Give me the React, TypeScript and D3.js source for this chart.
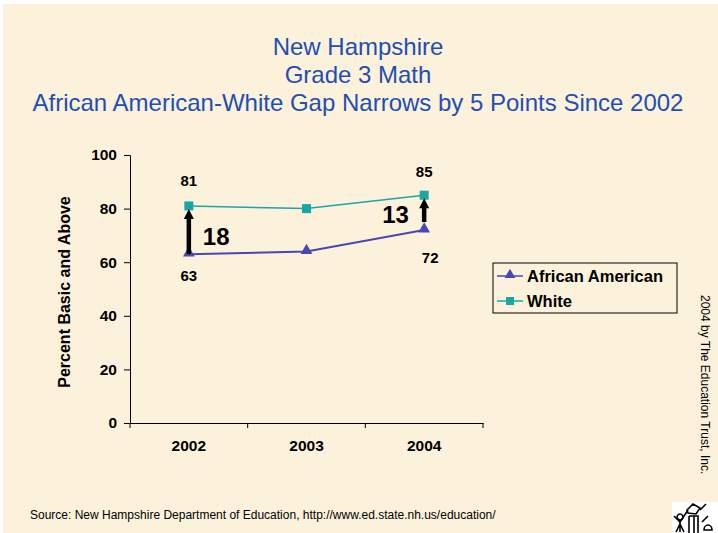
import { useEffect, useRef } from "react";
import * as d3 from "d3";

const years = ["2002", "2003", "2004"];
const africanAmerican = [63, 64, 72];
const white = [81, 80, 85];
const yTicks = [0, 20, 40, 60, 80, 100];
const gapLabels = [
  { year: "2002", from: 63, to: 81, text: "18" },
  { year: "2004", from: 72, to: 85, text: "13" },
];

const W = 718;
const H = 533;
const FONT = "Arial, 'Liberation Sans', sans-serif";

const App = () => {
  const ref = useRef<SVGSVGElement>(null);

  useEffect(() => {
    if (!ref.current) return;
    const svg = d3.select(ref.current);
    svg.selectAll("*").remove();

    // parchment background
    svg.append("rect").attr("width", W).attr("height", H).attr("fill", "#ffffff");
    svg
      .append("rect")
      .attr("x", 3)
      .attr("y", 4)
      .attr("width", W - 3)
      .attr("height", H - 4)
      .attr("fill", "#fcf2dc");

    // title
    const title = [
      "New Hampshire",
      "Grade 3 Math",
      "African American-White Gap Narrows by 5 Points Since 2002",
    ];
    svg
      .append("g")
      .selectAll("text")
      .data(title)
      .enter()
      .append("text")
      .attr("x", 358)
      .attr("y", (_d, i) => 55 + i * 28)
      .attr("text-anchor", "middle")
      .attr("font-family", FONT)
      .attr("font-size", "24px")
      .attr("fill", "#1f4fb2")
      .text((d) => d);

    const x = d3.scaleBand().domain(years).range([130, 483]);
    const y = d3.scaleLinear().domain([0, 100]).range([423, 155]);
    const cx = (yr: string) => (x(yr) ?? 0) + x.bandwidth() / 2;

    // y axis
    const yAxis = svg
      .append("g")
      .attr("transform", "translate(130,0)")
      .call(d3.axisLeft(y).tickValues(yTicks).tickSize(6).tickPadding(7));
    yAxis.select(".domain").attr("stroke", "#000");
    yAxis
      .selectAll("text")
      .attr("font-family", FONT)
      .attr("font-size", "15.5px")
      .attr("font-weight", "bold")
      .attr("fill", "#000");

    // x axis
    const xAxis = svg
      .append("g")
      .attr("transform", "translate(0,423)")
      .call(d3.axisBottom(x).tickSize(0).tickPadding(17));
    xAxis.select(".domain").attr("stroke", "#000");
    xAxis
      .selectAll("text")
      .attr("font-family", FONT)
      .attr("font-size", "15.5px")
      .attr("font-weight", "bold")
      .attr("fill", "#000");
    xAxis
      .selectAll("line.bound")
      .data([...years.map((d) => x(d) ?? 0), 483])
      .enter()
      .append("line")
      .attr("x1", (d) => d)
      .attr("x2", (d) => d)
      .attr("y1", 0)
      .attr("y2", 5)
      .attr("stroke", "#000");

    svg
      .append("text")
      .attr("transform", "translate(70,292) rotate(-90)")
      .attr("text-anchor", "middle")
      .attr("font-family", FONT)
      .attr("font-size", "16px")
      .attr("font-weight", "bold")
      .text("Percent Basic and Above");

    const line = d3
      .line<number>()
      .x((_d, i) => cx(years[i]))
      .y((d) => y(d));

    // White series
    svg
      .append("path")
      .attr("d", line(white))
      .attr("fill", "none")
      .attr("stroke", "#17a7a7")
      .attr("stroke-width", 1.5);
    svg
      .append("g")
      .selectAll("rect")
      .data(white)
      .enter()
      .append("rect")
      .attr("x", (_d, i) => cx(years[i]) - 4.5)
      .attr("y", (d) => y(d) - 4.5)
      .attr("width", 9)
      .attr("height", 9)
      .attr("fill", "#17a7a7");

    // African American series
    svg
      .append("path")
      .attr("d", line(africanAmerican))
      .attr("fill", "none")
      .attr("stroke", "#4848b4")
      .attr("stroke-width", 2);
    const tri = d3.symbol().type(d3.symbolTriangle).size(60);
    svg
      .append("g")
      .selectAll("path")
      .data(africanAmerican)
      .enter()
      .append("path")
      .attr("d", tri)
      .attr("transform", (d, i) => `translate(${cx(years[i])},${y(d) - 1})`)
      .attr("fill", "#4848b4");

    // gap arrows
    gapLabels.forEach((g, gi) => {
      const ax = cx(g.year);
      const y0 = gi === 0 ? y(g.from) : y(g.from) - 8;
      const y1 = y(g.to) + 3;
      svg
        .append("line")
        .attr("x1", ax)
        .attr("x2", ax)
        .attr("y1", y0)
        .attr("y2", y1 + 8)
        .attr("stroke", "#000")
        .attr("stroke-width", 4.5);
      svg
        .append("path")
        .attr("d", `M${ax - 5},${y1 + 10} L${ax},${y1} L${ax + 5},${y1 + 10} Z`)
        .attr("fill", "#000");
      svg
        .append("text")
        .attr("x", gi === 0 ? ax + 14 : ax - 42)
        .attr("y", gi === 0 ? y((g.from + g.to) / 2) + 15 : y(g.from) - 7)
        .attr("font-family", FONT)
        .attr("font-size", "24px")
        .attr("font-weight", "bold")
        .text(g.text);
    });

    // data labels
    const labels = [
      { x: cx("2002"), y: y(white[0]) - 20, t: String(white[0]) },
      { x: cx("2002"), y: y(africanAmerican[0]) + 27, t: String(africanAmerican[0]) },
      { x: cx("2004"), y: y(white[2]) - 18, t: String(white[2]) },
      { x: cx("2004") + 6, y: y(africanAmerican[2]) + 33, t: String(africanAmerican[2]) },
    ];
    svg
      .append("g")
      .selectAll("text")
      .data(labels)
      .enter()
      .append("text")
      .attr("x", (d) => d.x)
      .attr("y", (d) => d.y)
      .attr("text-anchor", "middle")
      .attr("font-family", FONT)
      .attr("font-size", "15px")
      .attr("font-weight", "bold")
      .text((d) => d.t);

    // legend
    const legend = svg.append("g").attr("transform", "translate(493,263)");
    legend
      .append("rect")
      .attr("width", 184)
      .attr("height", 50)
      .attr("fill", "none")
      .attr("stroke", "#000")
      .attr("stroke-width", 1);
    const items = [
      { name: "African American", color: "#4848b4", shape: "tri" },
      { name: "White", color: "#17a7a7", shape: "sq" },
    ];
    const li = legend
      .selectAll("g.item")
      .data(items)
      .enter()
      .append("g")
      .attr("transform", (_d, i) => `translate(0,${13 + i * 25})`);
    li.append("line")
      .attr("x1", 4)
      .attr("x2", 30)
      .attr("stroke", (d) => d.color)
      .attr("stroke-width", 1.5);
    li.filter((d) => d.shape === "tri")
      .append("path")
      .attr("d", d3.symbol().type(d3.symbolTriangle).size(50))
      .attr("transform", "translate(17,-1)")
      .attr("fill", (d) => d.color);
    li.filter((d) => d.shape === "sq")
      .append("rect")
      .attr("x", 13)
      .attr("y", -4)
      .attr("width", 8)
      .attr("height", 8)
      .attr("fill", (d) => d.color);
    li.append("text")
      .attr("x", 34)
      .attr("y", 6)
      .attr("font-family", FONT)
      .attr("font-size", "16.5px")
      .attr("font-weight", "bold")
      .text((d) => d.name);

    // copyright
    svg
      .append("text")
      .attr("transform", "translate(701,295) rotate(90)")
      .attr("font-family", FONT)
      .attr("font-size", "12px")
      .text("2004 by The Education Trust, Inc.");

    // source
    svg
      .append("text")
      .attr("x", 30)
      .attr("y", 519)
      .attr("font-family", FONT)
      .attr("font-size", "12px")
      .text(
        "Source: New Hampshire Department of Education, http://www.ed.state.nh.us/education/"
      );

    // logo
    const logo = svg.append("g").attr("transform", "translate(672,502)");
    logo.append("rect").attr("width", 46).attr("height", 31).attr("fill", "#fff");
    const strokes = [
      "M8,12 a3,3 0 1,0 0.1,0",
      "M8,18 L8,30 M4,30 L8,22 L12,30",
      "M2,14 L8,20 L16,8",
      "M17,14 L17,31 M22,14 L22,31 M17,14 L26,14 L26,31",
      "M15,8 L21,2 L28,6 L24,12 L16,11 Z",
      "M28,8 L34,2",
      "M32,28 a4,5 0 1,1 8,0 Z M30,20 L36,14",
    ];
    logo
      .selectAll("path")
      .data(strokes)
      .enter()
      .append("path")
      .attr("d", (d) => d)
      .attr("fill", "none")
      .attr("stroke", "#000")
      .attr("stroke-width", 1.6);
  }, []);

  return (
    <svg
      ref={ref}
      width={W}
      height={H}
      style={{ position: "fixed", left: 0, top: 0 }}
    ></svg>
  );
};

export default App;
